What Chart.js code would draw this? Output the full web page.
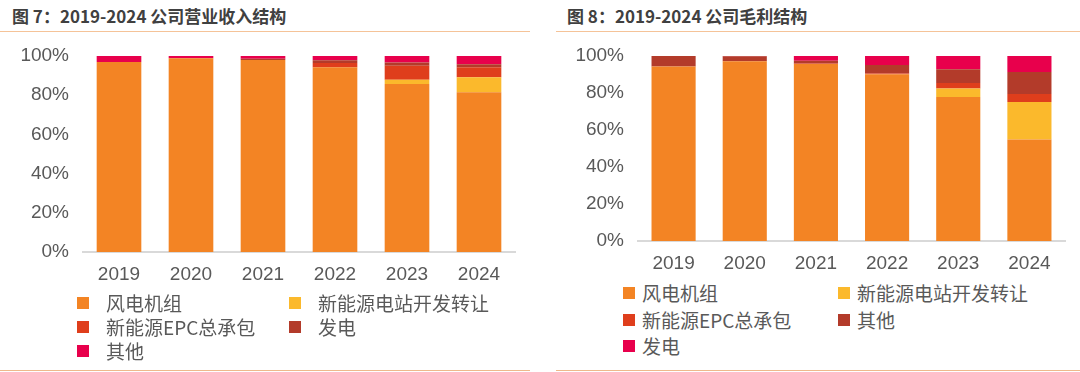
<!DOCTYPE html>
<html lang="zh">
<head>
<meta charset="utf-8">
<script src="https://cdn.jsdelivr.net/npm/chart.js@4/dist/chart.umd.min.js"></script>
<style>
  html, body { margin: 0; padding: 0; background: #fff; }
  body { width: 1080px; height: 372px; position: relative; overflow: hidden; font-family: "Noto Sans CJK SC", "Liberation Sans", sans-serif; }
  .title { position: absolute; top: 3px; font-size: 17px; font-weight: bold; color: #404040; white-space: nowrap; }
  .rule { position: absolute; height: 1px; background: #f5c398; }
  .box { position: absolute; }
  .legend { position: absolute; font-size: 19px; color: #595959; }
  .item { position: absolute; white-space: nowrap; line-height: 24px; }
  .item i { position: absolute; width: 12px; height: 12px; top: 6px; }
</style>
</head>
<body>

<div class="title" style="left:12px">图 7：2019-2024 公司营业收入结构</div>
<div class="title" style="left:567px">图 8：2019-2024 公司毛利结构</div>
<div class="rule" style="left:0;width:530px;top:31px"></div>
<div class="rule" style="left:556px;width:524px;top:31px"></div>
<div class="rule" style="left:0;width:530px;top:370px;background:#eeb98c"></div>
<div class="rule" style="left:556px;width:524px;top:370px;background:#eeb98c"></div>

<div class="box" style="left:0;top:40px;width:530px;height:250px"><canvas id="revChart"></canvas></div>
<div class="box" style="left:556px;top:40px;width:524px;height:239px"><canvas id="gpChart"></canvas></div>

<div class="legend" id="revLegend"></div>
<div class="legend" id="gpLegend"></div>

<script>
    const years = ['2019', '2020', '2021', '2022', '2023', '2024'];
    const yTicks = [0, 20, 40, 60, 80, 100];

    // 营业收入结构 (%)
    const revWind = [96.9, 98.8, 98.0, 94.2, 85.7, 81.5];
    const revPlant = [0, 0, 0, 0, 2.2, 7.7];
    const revEpc = [0, 0, 0, 2.2, 7.1, 5.1];
    const revPower = [0, 0, 0.6, 1.4, 1.7, 1.5];
    const revOther = [3.1, 1.2, 1.4, 2.2, 3.3, 4.2];

    // 毛利结构 (%)
    const gpWind = [94.3, 97.1, 95.7, 90.1, 77.8, 54.8];
    const gpPlant = [0, 0, 0, 0, 4.7, 20.4];
    const gpEpc = [0, 0, 0.3, 0.4, 2.9, 4.3];
    const gpOther = [5.7, 2.7, 1.5, 4.6, 7.4, 11.9];
    const gpPower = [0, 0.2, 2.5, 4.9, 7.2, 8.6];

    const ORANGE = '#f38424';
    const YELLOW = '#fbb92c';
    const RED = '#df3e1c';
    const DARKRED = '#b33b2a';
    const PINK = '#e8004c';

    function ds(label, data, color) {
        return {
            label: label,
            data: data,
            backgroundColor: color,
            borderWidth: 0,
            categoryPercentage: 1,
            barPercentage: 0.62
        };
    }

    function makeChart(id, datasets, yWidth) {
        return new Chart(document.getElementById(id), {
            type: 'bar',
            data: { labels: years, datasets: datasets },
            options: {
                responsive: true,
                maintainAspectRatio: false,
                animation: false,
                layout: { padding: { top: 16, right: 15, left: 0, bottom: 0 } },
                plugins: { legend: { display: false }, tooltip: { enabled: false } },
                scales: {
                    x: {
                        stacked: true,
                        grid: { display: false, drawTicks: false },
                        border: { color: '#d9d9d9', width: 2 },
                        ticks: { color: '#595959', padding: 11, font: { family: 'Liberation Sans', size: 19 } },
                        afterFit: function (s) { s.height = 38; s.paddingLeft = 0; s.paddingRight = 0; }
                    },
                    y: {
                        stacked: true,
                        min: 0,
                        max: 100,
                        afterBuildTicks: function (s) { s.ticks = yTicks.map(function (v) { return { value: v }; }); },
                        grid: { display: false, drawTicks: false },
                        border: { display: false },
                        ticks: {
                            color: '#595959', padding: 14,
                            font: { family: 'Liberation Sans', size: 19 },
                            callback: function (v) { return v + '%'; }
                        },
                        afterFit: function (s) { s.width = yWidth; s.paddingTop = 0; s.paddingBottom = 0; }
                    }
                }
            }
        });
    }

    const revChart = makeChart('revChart', [
        ds('风电机组', revWind, ORANGE),
        ds('新能源电站开发转让', revPlant, YELLOW),
        ds('新能源EPC总承包', revEpc, RED),
        ds('发电', revPower, DARKRED),
        ds('其他', revOther, PINK)
    ], 83);

    const gpChart = makeChart('gpChart', [
        ds('风电机组', gpWind, ORANGE),
        ds('新能源电站开发转让', gpPlant, YELLOW),
        ds('新能源EPC总承包', gpEpc, RED),
        ds('其他', gpOther, DARKRED),
        ds('发电', gpPower, PINK)
    ], 82);

    // two-column legend, filled from the chart's datasets
    function buildLegend(el, chart, cfg) {
        chart.data.datasets.forEach(function (d, i) {
            const col = i % 2, row = Math.floor(i / 2);
            const item = document.createElement('div');
            item.className = 'item';
            item.style.left = cfg.cols[col] + 'px';
            item.style.top = (cfg.top + row * cfg.rowH) + 'px';
            item.style.paddingLeft = cfg.gap + 'px';
            item.innerHTML = '<i style="left:0;background:' + d.backgroundColor + '"></i>' + d.label;
            el.appendChild(item);
        });
    }

    buildLegend(document.getElementById('revLegend'), revChart, { cols: [77, 289], top: 291, rowH: 24, gap: 29 });
    buildLegend(document.getElementById('gpLegend'), gpChart, { cols: [623, 838], top: 281, rowH: 26.7, gap: 19 });
</script>
</body>
</html>
